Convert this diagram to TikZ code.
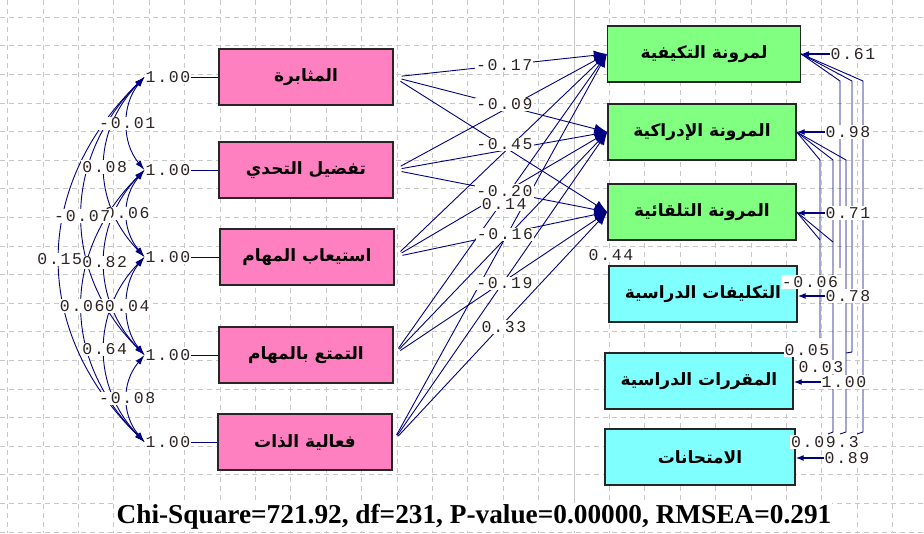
\documentclass[tikz,border=0pt]{standalone}
\usepackage{fontspec}
\usetikzlibrary{arrows.meta}
\TeXXeTstate=1
\newfontfamily\arabicfont[Script=Arabic]{DejaVu Sans}
\newfontfamily\numfont[LetterSpace=10]{Liberation Mono}
\newfontfamily\fitfont{Liberation Serif}
\definecolor{pathblue}{RGB}{0,0,128}
\definecolor{pinkfill}{RGB}{255,128,192}
\definecolor{greenfill}{RGB}{128,255,128}
\definecolor{cyanfill}{RGB}{128,255,255}
\definecolor{gridgray}{RGB}{200,200,200}
\definecolor{numtxt}{RGB}{45,35,35}

\begin{document}
\begin{tikzpicture}[x=1pt,y=-1pt,
    varbox/.style={draw=black!85, line width=1.4pt, minimum height=56pt, inner sep=0pt,
        font=\fontsize{17}{19}\selectfont\arabicfont\bfseries},
    pinkbox/.style={varbox, fill=pinkfill, minimum width=174pt},
    greenbox/.style={varbox, fill=greenfill, minimum width=188pt},
    cyanbox/.style={varbox, fill=cyanfill, minimum width=188pt},
    num/.style={fill=white, inner sep=1pt, text=numtxt,
        font=\fontsize{16.5}{16.5}\selectfont\numfont},
    link/.style={draw=pathblue, line width=0.9pt},
    cov/.style={link, {Latex[length=10pt,width=6pt]}-{Latex[length=10pt,width=6pt]}},
    effect/.style={link, -{Latex[length=13pt,width=10pt]}, shorten <=8pt},
    errarrow/.style={link, line width=1.2pt, -{Latex[length=8pt,width=6pt]}},
    grid/.style={gridgray, line width=0.8pt, dash pattern=on 5pt off 4pt}]

\fill[white] (0,0) rectangle (924,533);
\useasboundingbox (0,0) rectangle (924,533);
\foreach \i in {0,...,25}
    \draw[grid] ({7.6+35.4*\i},0) -- ({7.6+35.4*\i},533);
\foreach \j in {0,...,18}
    \draw[grid] (0,{17.2+28.6*\j}) -- (924,{17.2+28.6*\j});
\draw[gridgray, line width=1pt] (574,0) -- (574,533);

\node[pinkbox] (p1) at (306,77) {\beginR المثابرة\endR};
\node[pinkbox] (p2) at (306,170) {\beginR تفضيل التحدي\endR};
\node[pinkbox] (p3) at (307,257) {\beginR استيعاب المهام\endR};
\node[pinkbox] (p4) at (306,355) {\beginR التمتع بالمهام\endR};
\node[pinkbox] (p5) at (305,442) {\beginR فعالية الذات\endR};

\node[greenbox, minimum width=193pt] (g1) at (704,54) {\beginR لمرونة التكيفية\endR};
\node[greenbox] (g2) at (702,132) {\beginR المرونة الإدراكية\endR};
\node[greenbox] (g3) at (702,212) {\beginR المرونة التلقائية\endR};
\node[cyanbox] (g4) at (703,294) {\beginR التكليفات الدراسية\endR};
\node[cyanbox] (g5) at (699,381) {\beginR المقررات الدراسية\endR};
\node[cyanbox, minimum width=190pt] (g6) at (700,457) {\beginR الامتحانات\endR};

\node[num] (v1) at (168,77) {1.00};
\node[num] (v2) at (168,170) {1.00};
\node[num] (v3) at (168,257) {1.00};
\node[num] (v4) at (168,355) {1.00};
\node[num] (v5) at (168,442) {1.00};
\foreach \i in {1,...,5}
    \draw[link] (v\i) -- (p\i);

\foreach \a/\b in {1/2,1/3,1/4,1/5,2/3,2/4,2/5,3/4,3/5,4/5} {
    \pgfmathsetmacro\dx{-23-30*(\b-\a-1)}
    \pgfmathsetmacro\dy{0.3*(\b-\a)*92}
    \draw[cov] (v\a.west) .. controls +(\dx,\dy) and +(\dx,-\dy) .. (v\b.west);
}
\foreach \a/\b/\c in {1/2/-0.01,1/3/0.08,2/3/0.06,1/4/-0.07,2/4/0.82,1/5/0.15,3/4/0.04,2/5/0.06,3/5/0.64,4/5/-0.08} {
    \pgfmathsetmacro\dx{-23-30*(\b-\a-1)}
    \pgfmathsetmacro\dy{0.3*(\b-\a)*92}
    \path (v\a.west) .. controls +(\dx,\dy) and +(\dx,-\dy) .. node[num] {\c} (v\b.west);
}

\foreach \i in {1,...,5}
    \foreach \j in {1,2,3}
        \draw[effect] (p\i.east) -- (g\j.west);
\foreach \i/\j/\c in {4/1/0.14,1/1/-0.17,1/2/-0.09,1/3/-0.45,2/3/-0.20,3/3/-0.16,4/3/-0.19,5/3/0.33}
    \path ([xshift=8pt]p\i.east) -- node[num] {\c} (g\j.west);

\coordinate (k1) at (840,268);
\coordinate (k2) at (846,353);
\coordinate (k3) at (857,434);
\coordinate (k4) at (820,338);
\coordinate (k5) at (828,434);
\coordinate (k6) at (840,434);
\coordinate (k7) at (820,240);
\coordinate (k8) at (833,242);
\draw[link] (g1.east) -- (840,81) -- (k1);
\draw[link] (g1.east) -- (852,81) -- (852,352) -- (k2);
\draw[link] (g1.east) -- (863,81) -- (863,432) -- (k3);
\draw[link] (g2.east) -- (820,160) -- (k4);
\draw[link] (g2.east) -- (833,160) -- (833,432) -- (k5);
\draw[link] (g2.east) -- (846,160) -- (846,432) -- (k6);
\draw[link] (g3.east) -- (k7);
\draw[link] (g3.east) -- (k8);

\node[num] (c1) at (810,282) {-0.06};
\node[num] (c2) at (807,350) {0.05};
\node[num] (c3) at (821,367) {0.03};
\node[num] (c4) at (825,442) {0.09.3};

\node[num] (e1) at (853,54) {0.61};
\node[num] (e2) at (848,132) {0.98};
\node[num] (e3) at (848,213) {0.71};
\node[num] (e4) at (848,296) {0.78};
\node[num] (e5) at (844,382) {1.00};
\node[num] (e6) at (847,458) {0.89};
\foreach \i in {1,...,6}
    \draw[errarrow] (e\i.west) -- (e\i -| g\i.east);

\node[num] (r3) at (611,255) {0.44};

\node[fill=white, inner sep=1pt, font=\fontsize{27.3}{27.3}\selectfont\fitfont\bfseries] (fit) at (474,517)
    {Chi-Square=721.92, df=231, P-value=0.00000, RMSEA=0.291};
\end{tikzpicture}
\end{document}
